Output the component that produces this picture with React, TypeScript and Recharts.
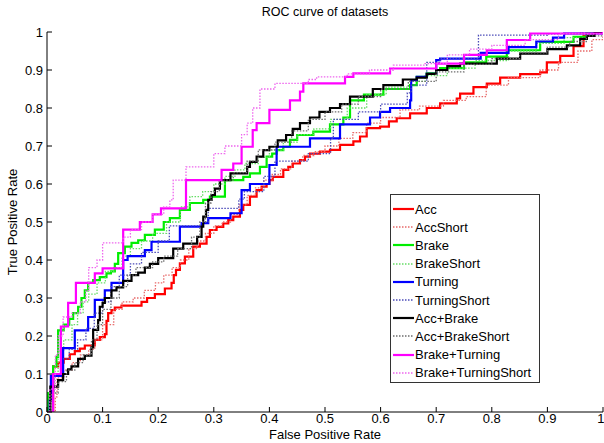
import React from 'react';
import { LineChart, Line, XAxis, YAxis, Label } from 'recharts';

type Pt = { x: number; y: number };
const pts = (a: number[][]): Pt[] => a.map(([x, y]) => ({ x, y }));

const X_TICKS = [0, 0.1, 0.2, 0.3, 0.4, 0.5, 0.6, 0.7, 0.8, 0.9, 1];
const Y_TICKS = [0, 0.1, 0.2, 0.3, 0.4, 0.5, 0.6, 0.7, 0.8, 0.9, 1];

const acc = [[0,0],[0.011,0.12],[0.02,0.13],[0.03,0.14],[0.041,0.152],[0.05,0.16],[0.059,0.167],[0.068,0.175],[0.086,0.19],[0.095,0.197],[0.104,0.205],[0.107,0.24],[0.11,0.26],[0.116,0.268],[0.122,0.275],[0.134,0.28],[0.17,0.29],[0.18,0.30],[0.194,0.31],[0.212,0.325],[0.224,0.34],[0.228,0.36],[0.232,0.374],[0.239,0.391],[0.248,0.409],[0.263,0.435],[0.275,0.443],[0.287,0.461],[0.293,0.479],[0.305,0.487],[0.317,0.496],[0.326,0.505],[0.335,0.514],[0.347,0.532],[0.353,0.545],[0.365,0.567],[0.377,0.584],[0.386,0.593],[0.395,0.60],[0.40,0.61],[0.406,0.619],[0.425,0.637],[0.434,0.645],[0.442,0.654],[0.455,0.663],[0.464,0.672],[0.473,0.68],[0.491,0.685],[0.509,0.69],[0.527,0.703],[0.551,0.712],[0.563,0.725],[0.575,0.747],[0.599,0.751],[0.615,0.765],[0.629,0.773],[0.653,0.786],[0.683,0.80],[0.707,0.812],[0.737,0.825],[0.743,0.838],[0.767,0.855],[0.791,0.864],[0.815,0.88],[0.851,0.889],[0.887,0.894],[0.899,0.92],[0.923,0.937],[0.947,0.963],[0.965,0.99],[0.983,1],[1,1]];
const accShort = [[0,0],[0.015,0.04],[0.018,0.09],[0.03,0.11],[0.045,0.13],[0.06,0.15],[0.075,0.165],[0.086,0.19],[0.10,0.23],[0.12,0.27],[0.135,0.29],[0.155,0.30],[0.175,0.32],[0.195,0.34],[0.21,0.36],[0.225,0.38],[0.24,0.40],[0.255,0.43],[0.27,0.45],[0.285,0.47],[0.30,0.49],[0.315,0.50],[0.33,0.52],[0.345,0.545],[0.36,0.57],[0.375,0.59],[0.39,0.61],[0.405,0.625],[0.42,0.64],[0.44,0.66],[0.46,0.675],[0.48,0.685],[0.50,0.70],[0.525,0.72],[0.55,0.735],[0.575,0.76],[0.60,0.775],[0.635,0.795],[0.67,0.805],[0.713,0.82],[0.754,0.83],[0.79,0.86],[0.83,0.88],[0.887,0.90],[0.92,0.92],[0.955,0.95],[0.98,0.98],[1,1]];
const brake = [[0,0],[0.002,0.05],[0.011,0.12],[0.017,0.145],[0.02,0.215],[0.03,0.23],[0.04,0.245],[0.047,0.26],[0.056,0.277],[0.062,0.30],[0.068,0.32],[0.074,0.34],[0.083,0.347],[0.095,0.355],[0.107,0.365],[0.115,0.37],[0.122,0.39],[0.128,0.418],[0.14,0.435],[0.152,0.445],[0.164,0.452],[0.176,0.466],[0.194,0.48],[0.21,0.50],[0.221,0.51],[0.239,0.532],[0.257,0.55],[0.281,0.558],[0.293,0.567],[0.32,0.61],[0.353,0.619],[0.365,0.628],[0.383,0.645],[0.395,0.672],[0.405,0.68],[0.413,0.689],[0.425,0.698],[0.437,0.716],[0.45,0.729],[0.479,0.738],[0.509,0.757],[0.533,0.775],[0.545,0.82],[0.57,0.835],[0.605,0.85],[0.653,0.86],[0.665,0.882],[0.683,0.891],[0.70,0.90],[0.707,0.905],[0.75,0.92],[0.79,0.935],[0.827,0.952],[0.887,0.974],[0.947,0.987],[0.97,1],[1,1]];
const brakeShort = [[0,0],[0.004,0.05],[0.012,0.10],[0.02,0.16],[0.03,0.19],[0.045,0.23],[0.055,0.26],[0.065,0.29],[0.075,0.31],[0.09,0.34],[0.105,0.37],[0.12,0.38],[0.135,0.41],[0.15,0.43],[0.17,0.45],[0.19,0.47],[0.215,0.50],[0.24,0.54],[0.257,0.567],[0.28,0.58],[0.30,0.60],[0.32,0.62],[0.338,0.637],[0.356,0.654],[0.38,0.67],[0.40,0.689],[0.425,0.71],[0.45,0.73],[0.48,0.745],[0.51,0.77],[0.54,0.80],[0.575,0.835],[0.61,0.855],[0.65,0.87],[0.68,0.885],[0.72,0.905],[0.77,0.925],[0.83,0.95],[0.88,0.97],[0.93,0.985],[0.97,0.995],[1,1]];
const turning = [[0,0],[0.005,0.03],[0.007,0.095],[0.029,0.168],[0.05,0.215],[0.074,0.25],[0.086,0.295],[0.104,0.32],[0.116,0.34],[0.137,0.40],[0.145,0.41],[0.176,0.426],[0.188,0.448],[0.239,0.488],[0.278,0.497],[0.29,0.51],[0.33,0.523],[0.35,0.584],[0.365,0.60],[0.40,0.65],[0.413,0.698],[0.473,0.72],[0.527,0.757],[0.581,0.775],[0.599,0.79],[0.617,0.80],[0.653,0.82],[0.655,0.873],[0.665,0.882],[0.683,0.89],[0.70,0.926],[0.707,0.93],[0.78,0.945],[0.83,0.96],[0.88,0.975],[0.91,0.985],[0.93,0.996],[1,1]];
const turningShort = [[0,0],[0.005,0.05],[0.012,0.10],[0.025,0.14],[0.04,0.165],[0.055,0.19],[0.07,0.22],[0.085,0.26],[0.10,0.29],[0.115,0.33],[0.13,0.36],[0.15,0.39],[0.17,0.42],[0.20,0.45],[0.22,0.49],[0.28,0.50],[0.29,0.536],[0.345,0.56],[0.355,0.58],[0.39,0.62],[0.41,0.66],[0.47,0.68],[0.51,0.72],[0.515,0.77],[0.56,0.79],[0.60,0.81],[0.648,0.84],[0.655,0.86],[0.683,0.92],[0.707,0.93],[0.776,0.992],[0.90,0.995],[0.96,1],[1,1]];
const accBrake = [[0,0],[0.006,0.067],[0.02,0.084],[0.029,0.10],[0.038,0.112],[0.044,0.12],[0.056,0.14],[0.068,0.148],[0.08,0.17],[0.083,0.216],[0.092,0.242],[0.095,0.277],[0.10,0.287],[0.104,0.30],[0.116,0.32],[0.125,0.328],[0.137,0.345],[0.152,0.36],[0.164,0.367],[0.176,0.38],[0.185,0.39],[0.20,0.405],[0.227,0.43],[0.245,0.443],[0.27,0.461],[0.278,0.488],[0.281,0.514],[0.286,0.532],[0.29,0.558],[0.296,0.571],[0.302,0.588],[0.311,0.61],[0.33,0.628],[0.36,0.645],[0.365,0.658],[0.377,0.672],[0.389,0.689],[0.40,0.698],[0.415,0.715],[0.43,0.729],[0.442,0.745],[0.455,0.76],[0.473,0.775],[0.49,0.79],[0.509,0.80],[0.527,0.81],[0.545,0.83],[0.586,0.85],[0.605,0.86],[0.64,0.875],[0.665,0.88],[0.683,0.89],[0.70,0.90],[0.72,0.91],[0.743,0.917],[0.809,0.93],[0.851,0.943],[0.90,0.955],[0.935,0.965],[0.959,0.982],[0.971,0.99],[0.985,1],[1,1]];
const accBrakeShort = [[0,0],[0.008,0.05],[0.02,0.08],[0.035,0.11],[0.05,0.13],[0.065,0.15],[0.08,0.19],[0.09,0.23],[0.10,0.27],[0.115,0.30],[0.13,0.33],[0.145,0.36],[0.16,0.38],[0.19,0.395],[0.21,0.41],[0.235,0.43],[0.26,0.46],[0.275,0.50],[0.285,0.55],[0.295,0.58],[0.31,0.61],[0.335,0.63],[0.36,0.66],[0.38,0.69],[0.41,0.71],[0.44,0.74],[0.47,0.77],[0.50,0.79],[0.53,0.81],[0.56,0.83],[0.60,0.85],[0.65,0.87],[0.70,0.895],[0.75,0.915],[0.80,0.93],[0.85,0.945],[0.90,0.96],[0.94,0.975],[0.97,0.99],[1,1]];
const brakeTurning = [[0,0],[0.011,0.10],[0.025,0.225],[0.038,0.287],[0.052,0.34],[0.086,0.365],[0.10,0.378],[0.137,0.48],[0.167,0.50],[0.19,0.52],[0.205,0.536],[0.25,0.61],[0.314,0.637],[0.335,0.654],[0.35,0.698],[0.37,0.742],[0.377,0.76],[0.40,0.795],[0.437,0.82],[0.455,0.843],[0.461,0.865],[0.536,0.882],[0.551,0.891],[0.617,0.904],[0.70,0.917],[0.75,0.94],[0.791,0.952],[0.827,0.979],[0.869,0.996],[1,1]];
const brakeTurningShort = [[0,0],[0.005,0.06],[0.015,0.15],[0.02,0.20],[0.029,0.25],[0.045,0.26],[0.06,0.29],[0.07,0.32],[0.075,0.38],[0.09,0.40],[0.10,0.445],[0.137,0.46],[0.15,0.48],[0.17,0.50],[0.19,0.52],[0.21,0.54],[0.221,0.558],[0.227,0.61],[0.25,0.645],[0.30,0.68],[0.32,0.70],[0.35,0.73],[0.36,0.76],[0.37,0.80],[0.383,0.85],[0.41,0.865],[0.47,0.875],[0.485,0.882],[0.54,0.89],[0.58,0.90],[0.623,0.913],[0.68,0.917],[0.72,0.94],[0.76,0.955],[0.80,0.965],[0.86,0.98],[0.92,0.995],[1,1]];

const SERIES_NAMES = ['Acc', 'AccShort', 'Brake', 'BrakeShort', 'Turning', 'TurningShort', 'Acc+Brake', 'Acc+BrakeShort', 'Brake+Turning', 'Brake+TurningShort'];
const SERIES_DATA = [acc, accShort, brake, brakeShort, turning, turningShort, accBrake, accBrakeShort, brakeTurning, brakeTurningShort];
const SERIES_COLORS = ['#ff0000', '#e86a6a', '#00ee00', '#66dd66', '#0000ff', '#4a4ab8', '#000000', '#6e6e6e', '#ff00ff', '#ee66ee'];
const SERIES_DOTTED = [false, true, false, true, false, true, false, true, false, true];

const FONT = '"Liberation Sans", Arial, Helvetica, sans-serif';

export default function App() {
  return (
    <div style={{ position: 'absolute', left: 0, top: 0, width: 604, height: 443, background: '#fff', fontFamily: FONT }}>
      <LineChart width={604} height={443} margin={{ top: 32, right: 1, bottom: 0, left: 0 }}>
        <XAxis xAxisId="b" type="number" dataKey="x" domain={[0, 1]} ticks={X_TICKS} height={31}
          tickSize={-5} tickMargin={7} stroke="#000" tick={{ fill: '#000', fontSize: 13, fontFamily: FONT }}
          tickFormatter={(v: number) => String(v)} allowDataOverflow>
          <Label value="False Positive Rate" position="insideBottom" offset={4} style={{ fill: '#000', fontSize: 13, fontFamily: FONT }} />
        </XAxis>
        <XAxis xAxisId="t" orientation="top" type="number" dataKey="x" domain={[0, 1]} ticks={X_TICKS} height={0}
          tickSize={-5} tick={false} stroke="#000" allowDataOverflow />
        <YAxis yAxisId="l" type="number" domain={[0, 1]} ticks={Y_TICKS} width={47}
          tickSize={-5} tickMargin={9} stroke="#000" tick={{ fill: '#000', fontSize: 13, fontFamily: FONT }}
          tickFormatter={(v: number) => String(v)} allowDataOverflow>
          <Label value="True Positive Rate" angle={-90} position="insideLeft" offset={12} style={{ textAnchor: 'middle', fill: '#000', fontSize: 13, fontFamily: FONT }} />
        </YAxis>
        <YAxis yAxisId="r" orientation="right" type="number" domain={[0, 1]} ticks={Y_TICKS} width={0}
          tickSize={-5} tick={false} stroke="#000" allowDataOverflow />
        {SERIES_NAMES.map((name, i) => (
          <Line key={name} name={name} xAxisId="b" yAxisId="l" data={pts(SERIES_DATA[i])} dataKey="y"
            type="stepAfter" stroke={SERIES_COLORS[i]} strokeWidth={SERIES_DOTTED[i] ? 1.3 : 2.2}
            strokeDasharray={SERIES_DOTTED[i] ? '1.5 1.5' : undefined}
            dot={false} activeDot={false} isAnimationActive={false} />
        ))}
      </LineChart>
      <div style={{ position: 'absolute', left: 0, top: 5, width: 650, textAlign: 'center', fontSize: 12.5, color: '#000' }}>ROC curve of datasets</div>
      <div style={{ position: 'absolute', left: 390, top: 194, width: 150, height: 189, boxSizing: 'border-box', border: '1px solid #333', background: '#fff', paddingTop: 5 }}>
        {SERIES_NAMES.map((name, i) => (
          <div key={name} style={{ display: 'flex', alignItems: 'center', height: 18.2, fontSize: 13, color: '#000', whiteSpace: 'nowrap' }}>
            <svg width={21} height={8} style={{ marginLeft: 2, marginRight: 1 }}>
              <line x1={0} y1={4} x2={21} y2={4} stroke={SERIES_COLORS[i]} strokeWidth={SERIES_DOTTED[i] ? 1.3 : 2.2}
                strokeDasharray={SERIES_DOTTED[i] ? '1.5 1.5' : undefined} />
            </svg>
            <span>{name}</span>
          </div>
        ))}
      </div>
    </div>
  );
}
